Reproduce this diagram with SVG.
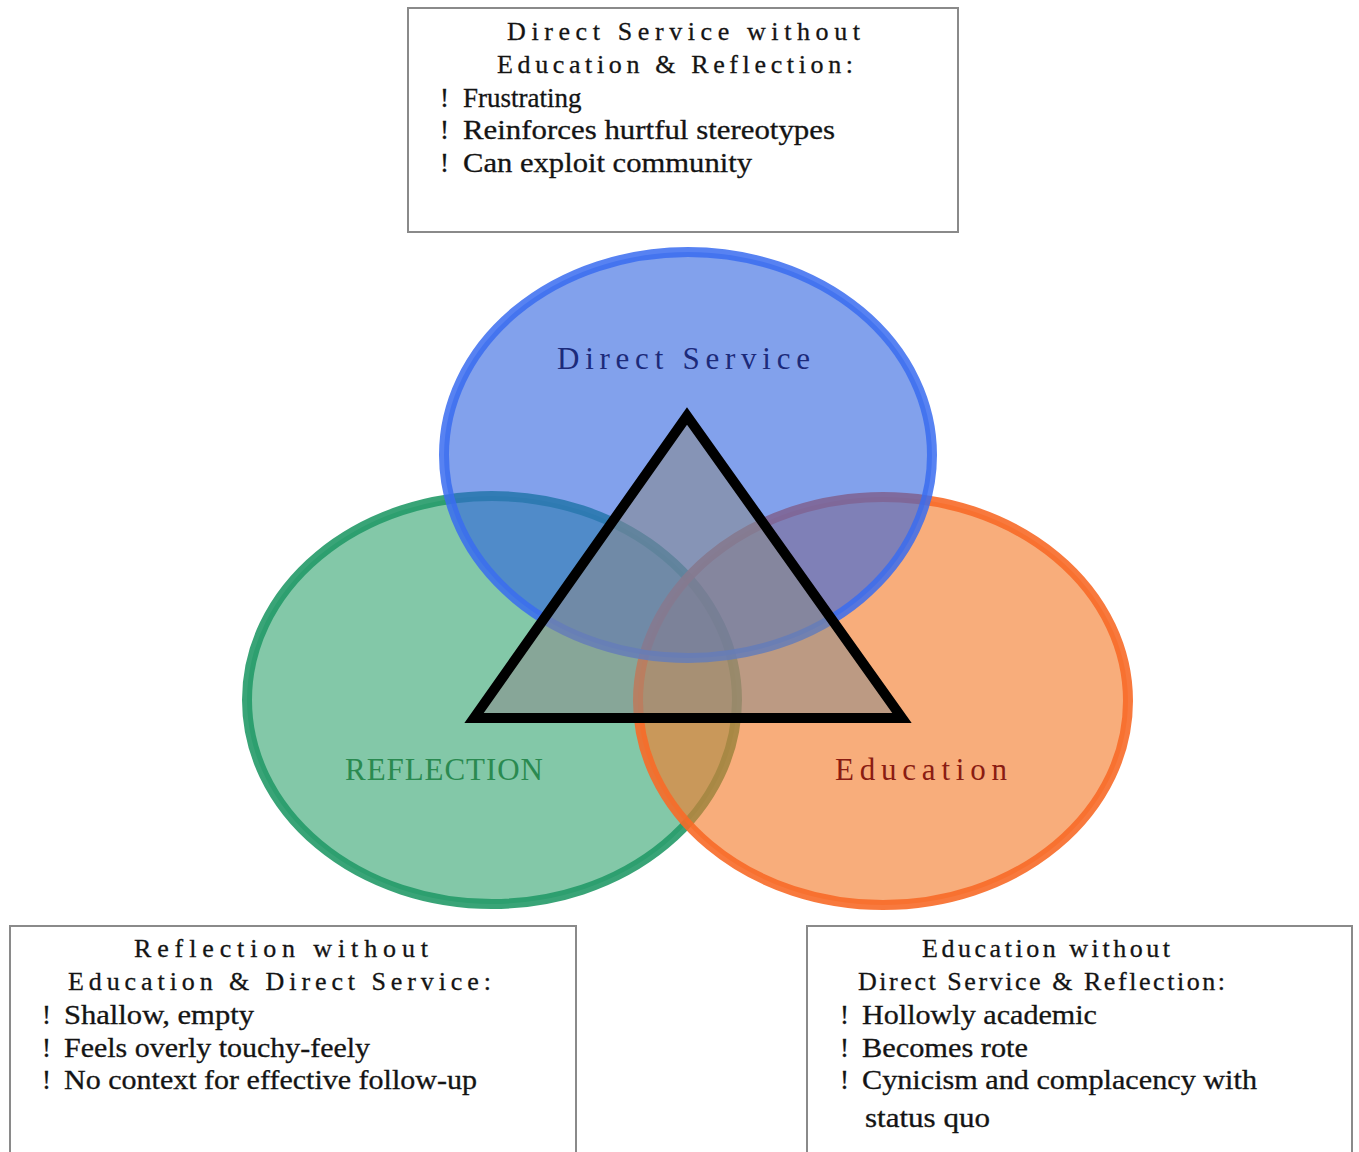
<svg xmlns="http://www.w3.org/2000/svg" width="1359" height="1152" viewBox="0 0 1359 1152">
<style>
.box{fill:#ffffff;stroke:#8a8a8a;stroke-width:2}
.t{font-family:"Liberation Serif","Times New Roman",serif;font-size:27px;fill:#141414;stroke:#141414;stroke-width:0.3}
.h{font-family:"Liberation Serif","Times New Roman",serif;font-size:26px;fill:#141414;stroke:#141414;stroke-width:0.3}
.lbl{font-family:"Liberation Serif","Times New Roman",serif;font-size:31px}
</style>
<rect width="1359" height="1152" fill="#ffffff"/>
<g id="circle-reflection">
<ellipse cx="492" cy="700" rx="245" ry="204" fill="#1e9a60" fill-opacity="0.55" stroke="#239a68" stroke-opacity="0.9" stroke-width="10"/>
</g>
<g id="circle-education">
<ellipse cx="883" cy="701" rx="245" ry="204" fill="#f47a2a" fill-opacity="0.62" stroke="#f76a28" stroke-opacity="0.9" stroke-width="10"/>
</g>
<g id="circle-direct-service">
<ellipse cx="688" cy="455" rx="244" ry="203" fill="#2f62e0" fill-opacity="0.6" stroke="#3a6cf0" stroke-opacity="0.85" stroke-width="10"/>
</g>
<g id="triangle">
<polygon points="687,416 474,718 902,718" fill="#8a8a8a" fill-opacity="0.55" stroke="#000000" stroke-width="10" stroke-linejoin="miter"/>
</g>
<g id="labels">
<text class="lbl" x="557" y="369" fill="#1c2a7a" textLength="253" lengthAdjust="spacing">Direct Service</text>
<text class="lbl" x="345" y="780" fill="#2a8a50" textLength="198" lengthAdjust="spacing">REFLECTION</text>
<text class="lbl" x="835" y="780" fill="#8a1c12" textLength="172" lengthAdjust="spacing">Education</text>
</g>
<g id="box-top">
<rect class="box" x="408" y="8" width="550" height="224"/>
<text class="h" x="507" y="40" textLength="353" lengthAdjust="spacing">Direct Service without</text>
<text class="h" x="497" y="73" textLength="356" lengthAdjust="spacing">Education &amp; Reflection:</text>
<text class="t" x="440" y="107">!</text><text class="t" x="463" y="107">Frustrating</text>
<text class="t" x="440" y="139">!</text><text class="t" x="463" y="139" textLength="372" lengthAdjust="spacingAndGlyphs">Reinforces hurtful stereotypes</text>
<text class="t" x="440" y="172">!</text><text class="t" x="463" y="172" textLength="289" lengthAdjust="spacingAndGlyphs">Can exploit community</text>
</g>
<g id="box-reflection">
<rect class="box" x="10" y="926" width="566" height="240"/>
<text class="h" x="134" y="957" textLength="294" lengthAdjust="spacing">Reflection without</text>
<text class="h" x="68" y="990" textLength="423" lengthAdjust="spacing">Education &amp; Direct Service:</text>
<text class="t" x="42" y="1024">!</text><text class="t" x="64" y="1024" textLength="190" lengthAdjust="spacingAndGlyphs">Shallow, empty</text>
<text class="t" x="42" y="1057">!</text><text class="t" x="64" y="1057" textLength="306" lengthAdjust="spacingAndGlyphs">Feels overly touchy-feely</text>
<text class="t" x="42" y="1089">!</text><text class="t" x="64" y="1089" textLength="413" lengthAdjust="spacingAndGlyphs">No context for effective follow-up</text>
</g>
<g id="box-education">
<rect class="box" x="807" y="926" width="545" height="240"/>
<text class="h" x="922" y="957" textLength="248" lengthAdjust="spacing">Education without</text>
<text class="h" x="858" y="990" textLength="367" lengthAdjust="spacing">Direct Service &amp; Reflection:</text>
<text class="t" x="840" y="1024">!</text><text class="t" x="862" y="1024" textLength="235" lengthAdjust="spacingAndGlyphs">Hollowly academic</text>
<text class="t" x="840" y="1057">!</text><text class="t" x="862" y="1057" textLength="166" lengthAdjust="spacingAndGlyphs">Becomes rote</text>
<text class="t" x="840" y="1089">!</text><text class="t" x="862" y="1089" textLength="395" lengthAdjust="spacingAndGlyphs">Cynicism and complacency with</text>
<text class="t" x="865" y="1127" textLength="125" lengthAdjust="spacingAndGlyphs">status quo</text>
</g>
<g id="connectors"></g>
</svg>
